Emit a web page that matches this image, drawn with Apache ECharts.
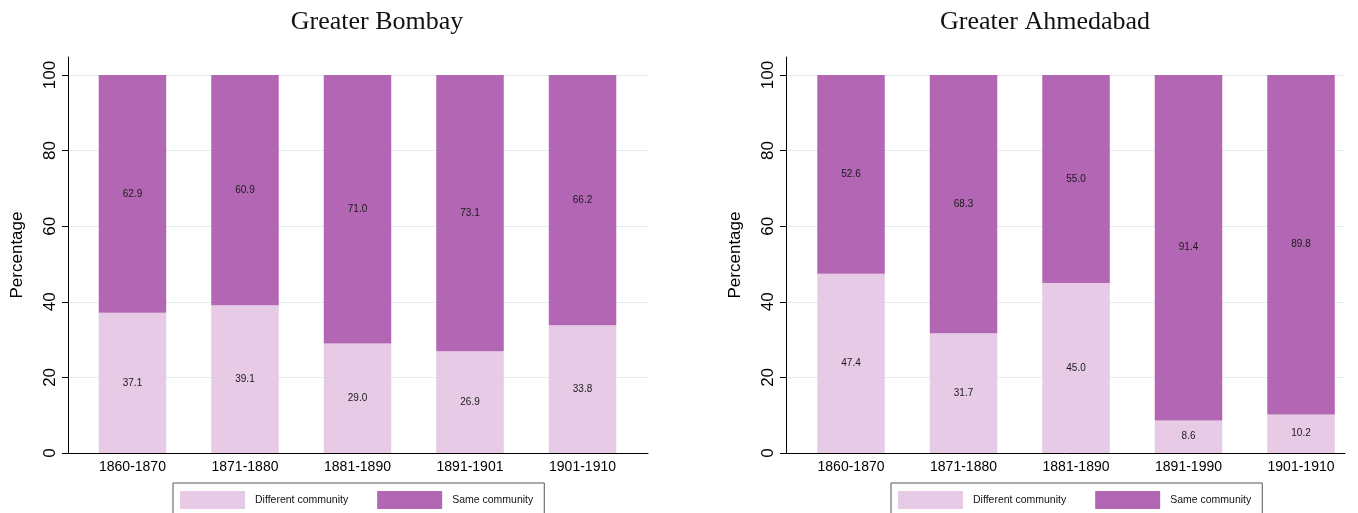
<!DOCTYPE html>
<html>
<head>
<meta charset="utf-8">
<script src="https://cdn.jsdelivr.net/npm/echarts@6/dist/echarts.min.js"></script>
<style>
  html, body { margin: 0; padding: 0; background: #fff; }
  #chart { width: 1358px; height: 513px; }
</style>
</head>
<body>
<div id="chart"></div>
<script>
// ---- data ----
const titles = ['Greater Bombay', 'Greater Ahmedabad'];
const seriesNames = ['Different community', 'Same community'];
const categoriesBombay = ['1860-1870', '1871-1880', '1881-1890', '1891-1901', '1901-1910'];
const bombayDifferent = [37.1, 39.1, 29.0, 26.9, 33.8];
const bombaySame = [62.9, 60.9, 71.0, 73.1, 66.2];
const categoriesAhmedabad = ['1860-1870', '1871-1880', '1881-1890', '1891-1990', '1901-1910'];
const ahmedabadDifferent = [47.4, 31.7, 45.0, 8.6, 10.2];
const ahmedabadSame = [52.6, 68.3, 55.0, 91.4, 89.8];
const yTicks = [0, 20, 40, 60, 80, 100];
const yAxisTitle = 'Percentage';

// ---- styles ----
const colorLight = '#e6cae6';
const colorDark = '#b366b3';
const gridColor = '#e2ecec';

const panels = [
  { cats: categoriesBombay, diff: bombayDifferent, same: bombaySame,
    grid: { left: 68, right: 1358 - 648 }, xMin: -0.573, xMax: 4.582, titleX: 372, legendLeft: 173 },
  { cats: categoriesAhmedabad, diff: ahmedabadDifferent, same: ahmedabadSame,
    grid: { left: 786, right: 1358 - 1345 }, xMin: -0.578, xMax: 4.391, titleX: 1040, legendLeft: 891 }
];

const chart = echarts.init(document.getElementById('chart'), null, { renderer: 'canvas' });

const option = {
  backgroundColor: '#fff',
  animation: false,
  title: panels.map((p, i) => ({
    text: titles[i],
    left: p.titleX,
    top: 4,
    textAlign: 'center',
    textStyle: { fontFamily: 'Liberation Serif', fontWeight: 'normal', fontSize: 26, color: '#111' }
  })),
  legend: panels.map((p, i) => ({
    data: seriesNames,
    left: p.legendLeft,
    top: 483,
    orient: 'horizontal',
    icon: 'rect',
    itemWidth: 65,
    itemHeight: 18,
    itemGap: 29,
    padding: [8, 11, 8, 7],
    borderColor: '#555',
    borderWidth: 1,
    selectedMode: false,
    textStyle: { fontFamily: 'Liberation Sans', fontSize: 10.5, color: '#111', padding: [0, 0, 0, 5] }
  })),
  grid: panels.map(p => ({
    left: p.grid.left, right: p.grid.right, top: 57, bottom: 60,
    containLabel: false, outerBoundsMode: 'none'
  })),
  xAxis: panels.map((p, i) => ({
    type: 'value',
    gridIndex: i,
    min: p.xMin,
    max: p.xMax,
    axisLine: { show: true, onZero: false, lineStyle: { color: '#000', width: 1 } },
    axisTick: { show: false },
    splitLine: { show: false },
    axisLabel: {
      customValues: [0, 1, 2, 3, 4],
      formatter: v => p.cats[Math.round(v)],
      fontFamily: 'Liberation Sans', fontSize: 14, color: '#000', margin: 7
    }
  })),
  yAxis: panels.map((p, i) => ({
    type: 'value',
    gridIndex: i,
    min: 0,
    max: 104.76,
    name: yAxisTitle,
    nameLocation: 'middle',
    nameRotate: 90,
    nameGap: 42,
    nameTextStyle: { fontFamily: 'Liberation Sans', fontSize: 17, color: '#000' },
    axisLine: { show: true, onZero: false, lineStyle: { color: '#000', width: 1 } },
    axisTick: { show: true, length: 6, customValues: yTicks, lineStyle: { color: '#000' } },
    splitLine: { show: true, lineStyle: { color: gridColor, width: 1 } },
    axisLabel: {
      customValues: yTicks,
      rotate: 90,
      fontFamily: 'Liberation Sans', fontSize: 17, color: '#000', margin: 9
    }
  })),
  series: []
};

panels.forEach((p, i) => {
  [[p.diff, colorLight, seriesNames[0]], [p.same, colorDark, seriesNames[1]]].forEach(([vals, col, name]) => {
    option.series.push({
      type: 'bar',
      name: name,
      xAxisIndex: i,
      yAxisIndex: i,
      stack: 'panel' + i,
      barWidth: '60%',
      itemStyle: { color: col },
      encode: { x: 1, y: 0 },
      label: {
        show: true,
        position: 'inside',
        formatter: prm => prm.value[0].toFixed(1),
        fontFamily: 'Liberation Sans',
        fontSize: 10,
        color: '#1a1a1a'
      },
      // [value, category index]
      data: vals.map((v, k) => [v, k])
    });
  });
});

chart.setOption(option);
</script>
</body>
</html>
